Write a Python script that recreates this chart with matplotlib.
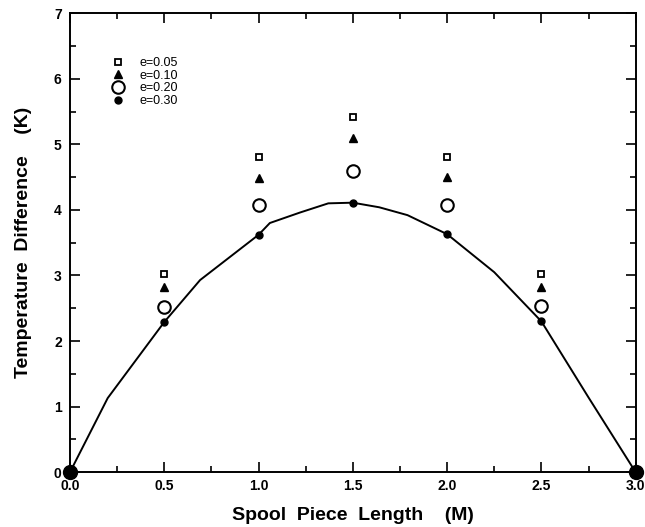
import matplotlib
matplotlib.use("Agg")
import matplotlib.pyplot as plt
from matplotlib.ticker import MultipleLocator

plt.rcParams['font.family'] = ['Liberation Sans', 'DejaVu Sans']

# spool positions where the data points were computed
length = [0.5, 1.0, 1.5, 2.0, 2.5]
dT_e005 = [3.02, 4.80, 5.41, 4.80, 3.02]
dT_e010 = [2.82, 4.48, 5.09, 4.50, 2.82]
dT_e020 = [2.52, 4.07, 4.60, 4.08, 2.53]
dT_e030 = [2.29, 3.62, 4.11, 3.63, 2.30]

# fitted curve through the e=0.30 points
curve_x = [0.0, 0.2, 0.5, 0.69, 1.0, 1.06, 1.22, 1.37, 1.5, 1.64, 1.79, 2.0, 2.25, 2.5, 2.75, 3.0]
curve_y = [0.0, 1.13, 2.29, 2.93, 3.62, 3.80, 3.96, 4.10, 4.11, 4.04, 3.92, 3.63, 3.05, 2.30, 1.14, 0.0]

ends_x = [0.0, 3.0]
ends_y = [0.0, 0.0]

xticks = [0.0, 0.5, 1.0, 1.5, 2.0, 2.5, 3.0]
xticklabels = ['0.0', '0.5', '1.0', '1.5', '2.0', '2.5', '3.0']
yticks = [0, 1, 2, 3, 4, 5, 6, 7]

fig = plt.figure(figsize=(6.45, 5.27), dpi=100)
ax = fig.add_axes([0.1085, 0.104, 0.877, 0.871])

ax.plot(curve_x, curve_y, color='black', lw=1.4)
ax.plot(ends_x, ends_y, 'o', color='black', ms=10, clip_on=False, zorder=5)

ax.plot(length, dT_e005, 's', mfc='white', mec='black', mew=1.3, ms=5, label='e=0.05')
ax.plot(length, dT_e010, '^', color='black', ms=6, label='e=0.10')
ax.plot(length, dT_e020, 'o', mfc='white', mec='black', mew=1.5, ms=9, label='e=0.20')
ax.plot(length, dT_e030, 'o', color='black', ms=5, label='e=0.30')

ax.set_xlim(0, 3.0)
ax.set_ylim(0, 7)
ax.set_xticks(xticks)
ax.set_xticklabels(xticklabels, fontweight='bold')
ax.set_yticks(yticks)
ax.set_yticklabels([str(v) for v in yticks], fontweight='bold')
ax.xaxis.set_minor_locator(MultipleLocator(0.25))
ax.yaxis.set_minor_locator(MultipleLocator(0.5))
ax.tick_params(which='both', direction='in', top=True, right=True, width=1.2)
ax.tick_params(which='major', length=7, labelsize=10)
ax.tick_params(which='minor', length=4)
ax.tick_params(axis='x', pad=5)
ax.tick_params(axis='y', pad=6)
for s in ax.spines.values():
    s.set_linewidth(1.4)

ax.set_xlabel('Spool  Piece  Length    (M)', fontsize=14, fontweight='bold', labelpad=10)
ax.set_ylabel('Temperature  Difference    (K)', fontsize=14, fontweight='bold', labelpad=16)

ax.legend(loc='upper left', bbox_to_anchor=(0.063, 0.918), frameon=False, fontsize=9,
          handlelength=1.0, handletextpad=1.2, labelspacing=0.05, borderpad=0)

fig.savefig('out.png', dpi=100)
